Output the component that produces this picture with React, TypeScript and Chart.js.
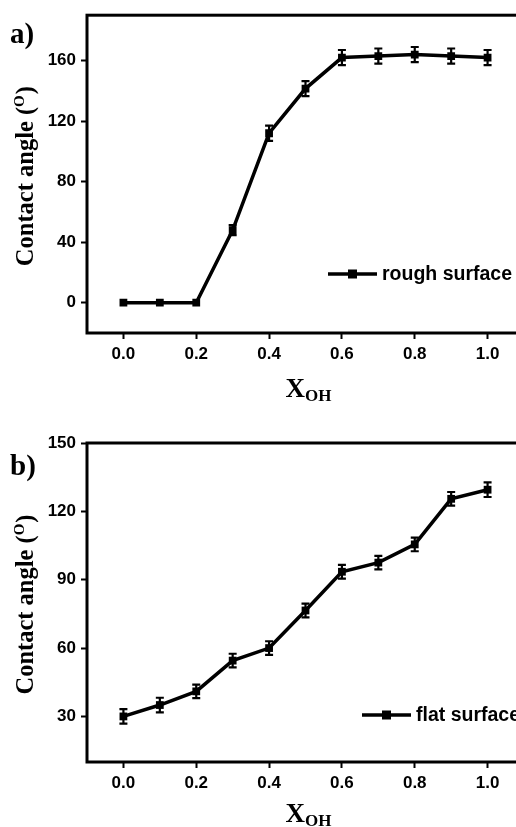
import React, { useEffect, useRef } from "react";
import { Chart, registerables } from "chart.js";

Chart.register(...registerables);

// ---- data ----
const xValues = [0, 0.1, 0.2, 0.3, 0.4, 0.5, 0.6, 0.7, 0.8, 0.9, 1.0];
const roughAngles = [0, 0, 0, 48, 112, 141.5, 162, 163, 164, 163, 162];
const roughErrors = [0, 0, 0, 3.3, 5, 5, 5, 5, 5, 5, 5];
const flatAngles = [30, 35, 41, 54.5, 60, 76.5, 93.5, 97.5, 105.5, 125.5, 129.5];
const flatErrors = [3.2, 3.2, 3, 3, 3, 3, 3, 3, 3, 3, 3.2];
const xTicks = [0, 0.2, 0.4, 0.6, 0.8, 1.0];
const roughYTicks = [0, 40, 80, 120, 160];
const flatYTicks = [30, 60, 90, 120, 150];
const roughLabel = "rough surface";
const flatLabel = "flat surface";
const yTitle = "Contact angle (";
const yTitleSup = "O";
const xTitleMain = "X";
const xTitleSub = "OH";

const SERIF = "'Liberation Serif', 'Times New Roman', serif";
const SANS = "'Liberation Sans', Arial, sans-serif";

type PanelCfg = {
  letter: string;
  letterY: number;
  label: string;
  values: number[];
  errors: number[];
  yMin: number;
  yMax: number;
  yTicks: number[];
  top: number;
  xAxisHeight: number;
  legendDX: number;
  legendDY: number;
  xTitleDY: number;
  height: number;
};

const W = 560;

const decorPlugin = {
  id: "decor",
  afterDatasetsDraw(chart: any, _args: any, opts: any) {
    const ctx = chart.ctx;
    const xs = chart.scales.x;
    const ys = chart.scales.y;
    const ds = chart.data.datasets[0];
    const errs: number[] = opts.errors;
    ctx.save();
    ctx.strokeStyle = "#000";
    ctx.lineWidth = 2.2;
    ds.data.forEach((p: any, i: number) => {
      const e = errs[i];
      if (!e) return;
      const x = xs.getPixelForValue(p.x);
      const y1 = ys.getPixelForValue(p.y + e);
      const y2 = ys.getPixelForValue(p.y - e);
      ctx.beginPath();
      ctx.moveTo(x, y1);
      ctx.lineTo(x, y2);
      ctx.moveTo(x - 4, y1);
      ctx.lineTo(x + 4, y1);
      ctx.moveTo(x - 4, y2);
      ctx.lineTo(x + 4, y2);
      ctx.stroke();
    });
    ctx.restore();
  },
  afterDraw(chart: any, _args: any, opts: any) {
    const ctx = chart.ctx;
    const a = chart.chartArea;
    ctx.save();
    // frame
    ctx.strokeStyle = "#000";
    ctx.lineWidth = 3;
    ctx.strokeRect(a.left, a.top, a.right - a.left, a.bottom - a.top);

    // panel letter
    ctx.fillStyle = "#000";
    ctx.font = `bold 29px ${SERIF}`;
    ctx.textBaseline = "alphabetic";
    ctx.textAlign = "left";
    ctx.fillText(opts.letter, 10, opts.letterY);

    // y title
    ctx.save();
    const cy = (a.top + a.bottom) / 2 + 2;
    ctx.translate(33, cy);
    ctx.rotate(-Math.PI / 2);
    ctx.font = `bold 24.5px ${SERIF}`;
    const w1 = ctx.measureText(yTitle).width;
    ctx.font = `bold 15px ${SERIF}`;
    const w2 = ctx.measureText(yTitleSup).width;
    ctx.font = `bold 24.5px ${SERIF}`;
    const w3 = ctx.measureText(")").width;
    let sx = -(w1 + w2 + w3 + 1) / 2;
    ctx.fillText(yTitle, sx, 0);
    sx += w1;
    ctx.font = `bold 15px ${SERIF}`;
    ctx.fillText(yTitleSup, sx, -9);
    sx += w2 + 1;
    ctx.font = `bold 24.5px ${SERIF}`;
    ctx.fillText(")", sx, 0);
    ctx.restore();

    // x title
    const cx = (a.left + a.right) / 2 + 3;
    ctx.font = `bold 27px ${SERIF}`;
    const xw = ctx.measureText(xTitleMain).width;
    ctx.font = `bold 17px ${SERIF}`;
    const sw = ctx.measureText(xTitleSub).width;
    const bx = cx - (xw + sw) / 2;
    const by = a.bottom + opts.xTitleDY;
    ctx.font = `bold 27px ${SERIF}`;
    ctx.fillText(xTitleMain, bx, by);
    ctx.font = `bold 17px ${SERIF}`;
    ctx.fillText(xTitleSub, bx + xw, by + 4);

    // legend
    const lx = a.left + opts.legendDX;
    const ly = a.bottom + opts.legendDY;
    ctx.lineWidth = 3.5;
    ctx.beginPath();
    ctx.moveTo(lx, ly);
    ctx.lineTo(lx + 49, ly);
    ctx.stroke();
    ctx.fillRect(lx + 20, ly - 4.5, 9, 9);
    ctx.font = `bold 19.5px ${SANS}`;
    ctx.textBaseline = "middle";
    ctx.fillText(opts.label, lx + 54, ly + 1);
    ctx.restore();
  },
};

function Panel({ cfg }: { cfg: PanelCfg }) {
  const ref = useRef<HTMLCanvasElement | null>(null);
  useEffect(() => {
    if (!ref.current) return;
    const chart = new Chart(ref.current, {
      type: "line",
      data: {
        datasets: [
          {
            label: cfg.label,
            data: xValues.map((x, i) => ({ x, y: cfg.values[i] })),
            borderColor: "#000",
            backgroundColor: "#000",
            borderWidth: 3.5,
            pointStyle: "rect",
            pointRadius: 5.5,
            pointBorderWidth: 0,
            pointBackgroundColor: "#000",
            tension: 0,
          },
        ],
      },
      options: {
        animation: false,
        responsive: false,
        devicePixelRatio: 1,
        layout: { padding: { left: 0, top: cfg.top, right: W - 524, bottom: 0 } },
        plugins: {
          legend: { display: false },
          tooltip: { enabled: false },
          decor: {
            errors: cfg.errors,
            letter: cfg.letter,
            letterY: cfg.letterY,
            label: cfg.label,
            legendDX: cfg.legendDX,
            legendDY: cfg.legendDY,
            xTitleDY: cfg.xTitleDY,
          },
        } as any,
        scales: {
          x: {
            type: "linear",
            min: -0.1,
            max: 1.1,
            afterBuildTicks: (s: any) => {
              s.ticks = xTicks.map((v) => ({ value: v }));
            },
            afterFit: (s: any) => {
              s.height = cfg.xAxisHeight;
            },
            ticks: {
              color: "#000",
              font: { family: SANS, size: 17, weight: "bold" },
              padding: 5,
              maxRotation: 0,
              callback: (v: any) => Number(v).toFixed(1),
            },
            grid: {
              display: true,
              drawOnChartArea: false,
              drawTicks: true,
              tickLength: 6,
              tickWidth: 2,
              tickColor: "#000",
            },
            border: { display: false },
          },
          y: {
            type: "linear",
            min: cfg.yMin,
            max: cfg.yMax,
            afterBuildTicks: (s: any) => {
              s.ticks = cfg.yTicks.map((v) => ({ value: v }));
            },
            afterFit: (s: any) => {
              s.width = 87;
            },
            ticks: {
              color: "#000",
              font: { family: SANS, size: 17, weight: "bold" },
              padding: 5,
            },
            grid: {
              display: true,
              drawOnChartArea: false,
              drawTicks: true,
              tickLength: 6,
              tickWidth: 2,
              tickColor: "#000",
            },
            border: { display: false },
          },
        },
      },
      plugins: [decorPlugin as any],
    });
    return () => chart.destroy();
  }, [cfg]);
  return (
    <canvas
      ref={ref}
      width={W}
      height={cfg.height}
      style={{ display: "block", width: W, height: cfg.height }}
    />
  );
}

const panelA: PanelCfg = {
  letter: "a)",
  letterY: 43,
  label: roughLabel,
  values: roughAngles,
  errors: roughErrors,
  yMin: -20,
  yMax: 190,
  yTicks: roughYTicks,
  top: 13,
  xAxisHeight: 413 - 333,
  legendDX: 241,
  legendDY: -59,
  xTitleDY: 64,
  height: 413,
};

const panelB: PanelCfg = {
  letter: "b)",
  letterY: 62,
  label: flatLabel,
  values: flatAngles,
  errors: flatErrors,
  yMin: 10,
  yMax: 150,
  yTicks: flatYTicks,
  top: 30,
  xAxisHeight: 414 - 349,
  legendDX: 275,
  legendDY: -47,
  xTitleDY: 60,
  height: 414,
};

export default function App() {
  return (
    <div
      style={{
        position: "absolute",
        left: 0,
        top: 0,
        width: 516,
        height: 827,
        overflow: "hidden",
        background: "#fff",
      }}
    >
      <Panel cfg={panelA} />
      <Panel cfg={panelB} />
    </div>
  );
}
